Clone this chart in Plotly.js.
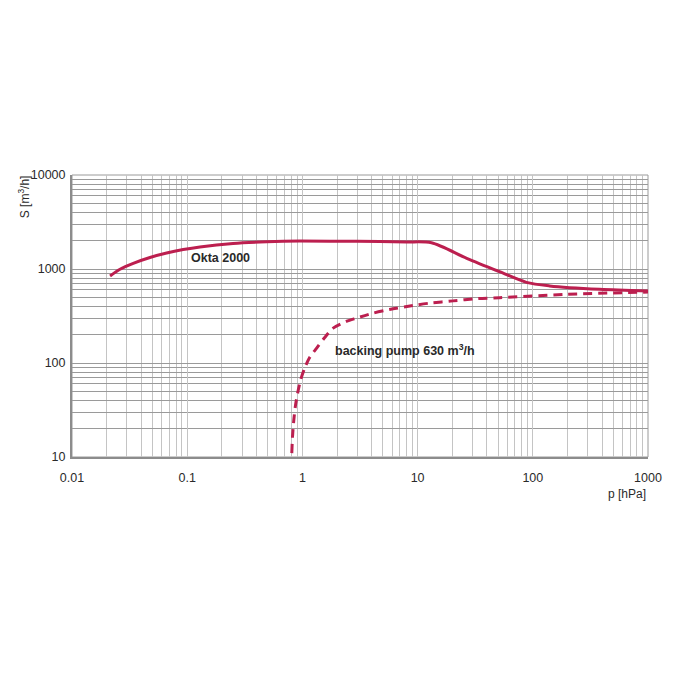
<!DOCTYPE html>
<html>
<head>
<meta charset="utf-8">
<script src="https://cdn.plot.ly/plotly-3.0.1.min.js"></script>
<style>html,body{margin:0;padding:0;background:#fff;}#chart{width:700px;height:700px;}</style>
</head>
<body>
<div id="chart"></div>
<script>
// Okta 2000 pumping speed curve
const oktaP = [0.0214, 0.0261, 0.034, 0.0475, 0.0663, 0.0923, 0.129, 0.25, 0.49, 0.95, 3, 8, 13.2, 26.7, 51.5, 88, 140, 380, 1000];
const oktaS = [843, 995, 1150, 1327, 1480, 1609, 1718, 1870, 1945, 1980, 1970, 1940, 1900, 1300, 936, 721, 661, 608, 585];
// Backing pump 630 m3/h curve
const backP = [0.809, 0.821, 0.842, 0.871, 0.918, 0.969, 1.05, 1.159, 1.33, 1.563, 1.85, 2.41, 2.94, 4.11, 5.7, 9.12, 12.7, 20.3, 32.4, 51.5, 195, 1000];
const backS = [11, 16.6, 24.7, 35.4, 50.7, 67, 89, 115, 144, 187, 235, 277, 300, 339, 370, 409, 433, 458, 483, 495, 538, 568];
// Tick labels
const xTickVals = [0.01, 0.1, 1, 10, 100, 1000];
const xTickText = ["0.01", "0.1", "1", "10", "100", "1000"];
const yTickVals = [10, 100, 1000, 10000];
const yTickText = ["10", "100", "1000", "10000"];

const lineColor = "#bc1f4f";
const traces = [
  {x: oktaP, y: oktaS, mode: "lines", line: {color: lineColor, width: 3, shape: "spline", smoothing: 0.8}, hoverinfo: "none"},
  {x: backP, y: backS, mode: "lines", line: {color: lineColor, width: 3, dash: "9px,6px", shape: "spline", smoothing: 0.8}, hoverinfo: "none"}
];
const fontFam = "Liberation Sans, Arial, sans-serif";
const layout = {
  width: 700, height: 700,
  margin: {l: 72, r: 52, t: 175, b: 243},
  paper_bgcolor: "#fff", plot_bgcolor: "#fff",
  showlegend: false,
  font: {family: fontFam, size: 12, color: "#2a2a2a"},
  xaxis: {
    type: "log", range: [-2, 3],
    tickvals: xTickVals, ticktext: xTickText,
    showgrid: true, gridcolor: "#c4c4c4", gridwidth: 1,
    minor: {dtick: "D1", showgrid: true, gridcolor: "#c4c4c4", gridwidth: 1},
    showline: true, linecolor: "#8c8c8c", linewidth: 2, mirror: false,
    ticks: "", ticklen: 0, zeroline: false, ticklabelstandoff: 8,
    tickfont: {size: 12.5, color: "#2a2a2a"}
  },
  yaxis: {
    type: "log", range: [1, 4],
    tickvals: yTickVals, ticktext: yTickText,
    showgrid: true, gridcolor: "#9a9a9a", gridwidth: 1,
    minor: {dtick: "D1", showgrid: true, gridcolor: "#9a9a9a", gridwidth: 1},
    showline: true, linecolor: "#8c8c8c", linewidth: 2,
    ticks: "", ticklen: 0, zeroline: false, ticklabelstandoff: 2,
    tickfont: {size: 12.5, color: "#2a2a2a"}
  },
  shapes: [
    {type: "rect", xref: "paper", yref: "paper", x0: 0, x1: 1, y0: 0, y1: 1, line: {color: "#9a9a9a", width: 1}, layer: "below"}
  ],
  annotations: [
    {text: "Okta 2000", x: Math.log10(0.1035), y: Math.log10(1304), xref: "x", yref: "y", xanchor: "left", yanchor: "middle", showarrow: false, font: {family: fontFam, size: 12.5, color: "#2a2a2a", weight: "bold"}},
    {text: "backing pump 630 m<sup>3</sup>/h", x: Math.log10(1.845), y: Math.log10(136), xref: "x", yref: "y", xanchor: "left", yanchor: "middle", showarrow: false, font: {family: fontFam, size: 12.5, color: "#2a2a2a", weight: "bold"}},
    {text: "S [m<sup>3</sup>/h]", xref: "paper", yref: "paper", x: -0.083, y: 1.005, xanchor: "center", yanchor: "top", textangle: -90, showarrow: false, font: {family: fontFam, size: 12, color: "#2a2a2a"}},
    {text: "p [hPa]", xref: "paper", yref: "paper", x: 1.0, y: -0.13, xanchor: "right", yanchor: "middle", showarrow: false, font: {family: fontFam, size: 12, color: "#2a2a2a"}}
  ]
};
Plotly.newPlot("chart", traces, layout, {staticPlot: true, displayModeBar: false});
</script>
</body>
</html>
